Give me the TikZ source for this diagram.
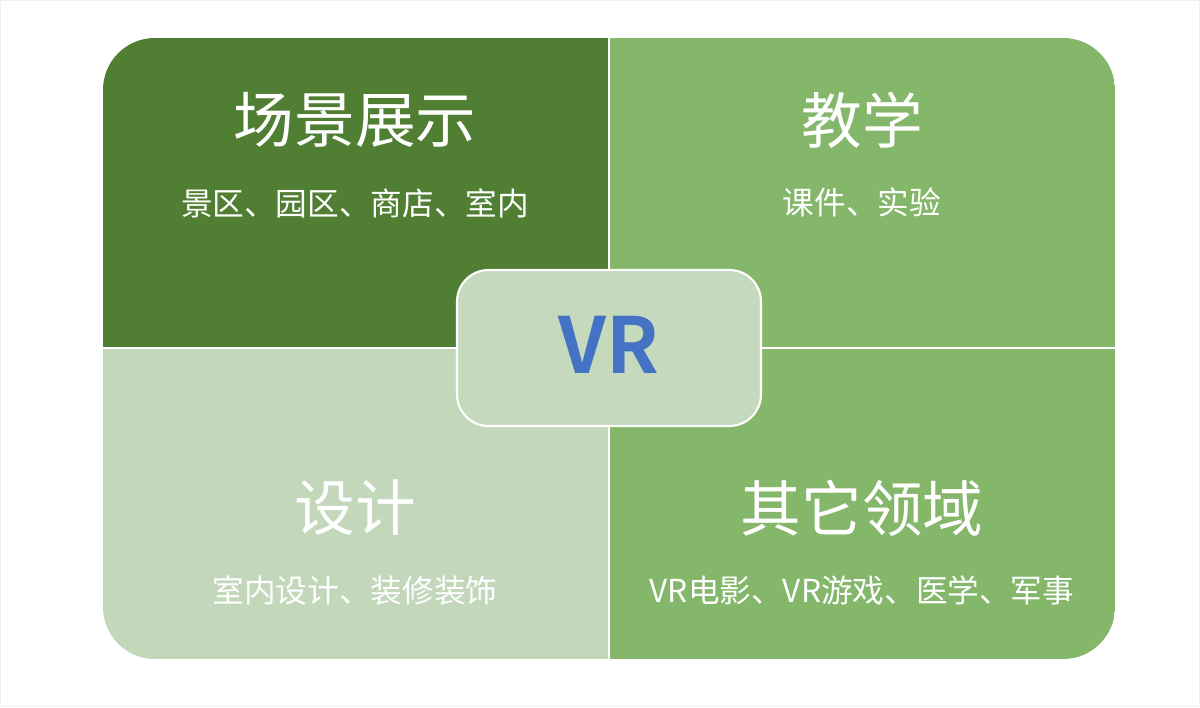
\documentclass[tikz,border=0pt]{standalone}
\usepackage{fontspec}
\setmainfont{Noto Sans CJK SC}
\newfontfamily\cjkbold{Noto Sans CJK SC Bold}
\definecolor{darkgrn}{HTML}{507E32}
\definecolor{midgrn}{HTML}{84B76A}
\definecolor{lightgrn}{HTML}{C3D7BB}
\definecolor{centergrn}{HTML}{C5D9BD}
\definecolor{vrblue}{HTML}{4472C4}
\tikzset{
  title/.style={text=white, font=\fontsize{34.5}{40}\selectfont},
  subtitle/.style={text=white, font=\fontsize{18}{22}\selectfont},
}
\begin{document}
\begin{tikzpicture}[x=0.02cm, y=-0.02cm]
        \useasboundingbox (0,0) rectangle (1200,707);
        \draw[gray!12,line width=0.8pt] (0.5,0.5) rectangle (1199.5,706.5);
        % four fields
        \begin{scope}
            \clip[rounded corners=29.5pt] (103,38) rectangle (1115,659);
            \fill[darkgrn] (103,38) rectangle (609,348);
            \fill[midgrn] (609,38) rectangle (1115,348);
            \fill[lightgrn] (103,348) rectangle (609,659);
            \fill[midgrn] (609,348) rectangle (1115,659);
        \end{scope}
        \draw[white,line width=1pt] (609,38)--(609,659);
        \draw[white,line width=1pt] (103,348)--(1115,348);
        \node[title] (scene) at (355,120) {场景展示};
        \node[subtitle] (scenetxt) at (355,203) {景区、园区、商店、室内};
        \node[title] (teach) at (862,120) {教学};
        \node[subtitle] (teachtxt) at (862,202) {课件、实验};
        \node[title] (design) at (355,508) {设计};
        \node[subtitle] (designtxt) at (355,590) {室内设计、装修装饰};
        \node[title] (other) at (862,508) {其它领域};
        \node[subtitle] (othertxt) at (862,590) {VR电影、VR游戏、医学、军事};
        % centre
        \draw[fill=centergrn,draw=white,line width=1.2pt,rounded corners=18pt] (457,270) rectangle (761,426);
        \node[text=vrblue,font=\cjkbold\fontsize{44}{50}\selectfont] (vr) at (609,345) {VR};
    \end{tikzpicture}
\end{document}
